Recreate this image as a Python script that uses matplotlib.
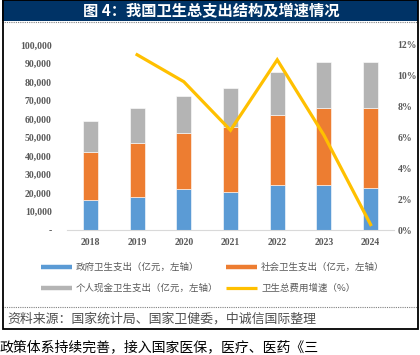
import matplotlib
matplotlib.use("Agg")
import matplotlib.pyplot as plt
from matplotlib.patches import Rectangle
from matplotlib.lines import Line2D

plt.rcParams['font.family'] = ['Noto Sans CJK SC', 'DejaVu Sans']

# data (亿元 / %)
years = ['2018', '2019', '2020', '2021', '2022', '2023', '2024']
gov = [16399, 18017, 21942, 20676, 24100, 24148, 22713]
social = [25811, 29151, 30274, 34963, 38200, 41677, 43359]
personal = [16912, 18674, 19959, 21206, 23000, 24751, 24824]
growth = [None, 11.37, 9.62, 6.47, 11.04, 6.15, 0.35]

left_ticks = [0, 10000, 20000, 30000, 40000, 50000, 60000, 70000, 80000, 90000, 100000]
left_labels = ['-', '10,000', '20,000', '30,000', '40,000', '50,000',
               '60,000', '70,000', '80,000', '90,000', '100,000']
right_ticks = [0, 2, 4, 6, 8, 10, 12]
right_labels = ['0%', '2%', '4%', '6%', '8%', '10%', '12%']

legend_labels = ['政府卫生支出（亿元，左轴）', '社会卫生支出（亿元，左轴）',
                 '个人现金卫生支出（亿元，左轴）', '卫生总费用增速（%）']
c_gov, c_soc, c_per, c_line = '#5B9BD5', '#ED7D31', '#B4B4B4', '#FFC000'

W, H = 420, 355
fig = plt.figure(figsize=(W / 100, H / 100), dpi=100)

def fx(px):
    return px / W

def fy(py):
    return 1 - py / H

# frame, title bar
fig.patches.append(Rectangle((fx(2), fy(21)), fx(416), 21 / H, transform=fig.transFigure,
                             facecolor='#003366', edgecolor='none', zorder=0))
fig.patches.append(Rectangle((fx(2.5), fy(329)), fx(415.5), 329 / H, transform=fig.transFigure,
                             facecolor='none', edgecolor='black', lw=1.3, zorder=5))
fig.lines.append(Line2D([fx(2), fx(418)], [fy(21.5), fy(21.5)], transform=fig.transFigure,
                        color='#808080', lw=0.8, ls=(0, (1, 1))))
fig.lines.append(Line2D([fx(2), fx(418)], [fy(307), fy(307)], transform=fig.transFigure,
                        color='#808080', lw=0.8, ls=(0, (1, 1))))
fig.text(fx(211), fy(11), '图 4：我国卫生总支出结构及增速情况', color='white',
         fontsize=11, fontweight='bold', ha='center', va='center')

# main chart
ax = fig.add_axes([fx(67), fy(230), fx(327), 185 / H])
x = list(range(len(years)))
bw = 0.32
ax.bar(x, gov, bw, color=c_gov, edgecolor='white', lw=0.4, zorder=2)
ax.bar(x, social, bw, bottom=gov, color=c_soc, edgecolor='white', lw=0.4, zorder=2)
base2 = [g + s for g, s in zip(gov, social)]
ax.bar(x, personal, bw, bottom=base2, color=c_per, edgecolor='white', lw=0.4, zorder=2)
ax.set_xlim(-0.5, 6.5)
ax.set_ylim(0, 100000)
ax.set_yticks(left_ticks)
ax.set_yticklabels(left_labels)
ax.set_xticks(x)
ax.set_xticklabels(years)
for s in ['top', 'left', 'right']:
    ax.spines[s].set_visible(False)
ax.spines['bottom'].set_color('#D9D9D9')
ax.tick_params(axis='y', length=0, pad=11)
ax.tick_params(axis='x', length=0, pad=6)

ax2 = ax.twinx()
gx = [i for i, g in zip(x, growth) if g is not None]
gy = [g for g in growth if g is not None]
ax2.plot(gx, gy, color=c_line, lw=2.3, solid_joinstyle='miter', zorder=3)
ax2.set_ylim(0, 12)
ax2.set_yticks(right_ticks)
ax2.set_yticklabels(right_labels)
for s in ['top', 'left', 'right', 'bottom']:
    ax2.spines[s].set_visible(False)
ax2.tick_params(axis='y', length=0, pad=2.5)

for a in (ax, ax2):
    for lab in a.get_xticklabels() + a.get_yticklabels():
        lab.set_fontfamily('Liberation Serif')
        lab.set_fontweight('bold')
        lab.set_fontsize(7)
        lab.set_color('#595959')

# legend
leg_pos = [(41, 267), (226, 267), (41, 288), (226, 288)]
leg_colors = [c_gov, c_soc, c_per, c_line]
for (lx, ly), col, lab in zip(leg_pos, leg_colors, legend_labels):
    fig.lines.append(Line2D([fx(lx), fx(lx + 31)], [fy(ly), fy(ly)], transform=fig.transFigure,
                            color=col, lw=3.2 if col != c_line else 2.3, solid_capstyle='butt'))
    fig.text(fx(lx + 35), fy(ly), lab, fontsize=6.8, color='#595959', ha='left', va='center')

fig.text(fx(7), fy(319), '资料来源：国家统计局、国家卫健委，中诚信国际整理',
         fontsize=9.3, color='#505050', style='italic', ha='left', va='center')
fig.text(fx(0), fy(340), '政策体系持续完善，接入国家医保，医疗、医药《三',
         fontsize=10, color='black', ha='left', va='top')

fig.savefig('out.png', dpi=100)
